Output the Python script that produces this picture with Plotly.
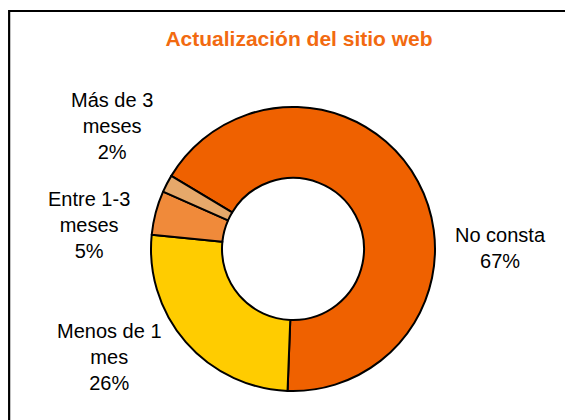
import plotly.graph_objects as go

# Data
categories = ["No consta", "Menos de 1<br>mes", "Entre 1-3<br>meses", "Más de 3<br>meses"]
values = [67, 26, 5, 2]
colors = ["#EF6100", "#FFCC00", "#F08A3A", "#E6A86A"]
title_text = "Actualización del sitio web"

W, H = 573, 420
OFF = 8  # page body margin offset in the browser

# Label positions (pixels in the reference picture: center x, center y)
label_pos = [(500, 248), (109, 357), (89, 225), (112, 126)]

FONT = "Liberation Sans, Arial, sans-serif"


def px(x):
    return (x - OFF) / W


def py(y):
    return 1 - (y - OFF) / H


fig = go.Figure(go.Pie(
    labels=categories,
    values=values,
    sort=False,
    direction="clockwise",
    rotation=-59,
    hole=0.5,
    textinfo="none",
    hoverinfo="label+percent",
    marker=dict(colors=colors, line=dict(color="black", width=2)),
    domain=dict(x=[px(151), px(435)], y=[py(391), py(107)]),
    showlegend=False,
))

total = sum(values)
annotations = []
for cat, val, (lx, ly) in zip(categories, values, label_pos):
    annotations.append(dict(
        text=f"{cat}<br>{round(100 * val / total)}%",
        x=px(lx), y=py(ly), xref="paper", yref="paper",
        xanchor="center", yanchor="middle", showarrow=False,
        align="center",
        font=dict(family=FONT, size=20, color="black"),
    ))

fig.update_layout(
    width=W, height=H,
    margin=dict(l=0, r=0, t=0, b=0),
    paper_bgcolor="white",
    plot_bgcolor="white",
    title=dict(
        text=f"<b>{title_text}</b>",
        x=px(299), y=py(39), xanchor="center", yanchor="middle",
        font=dict(family=FONT, size=21, color="#F26A10"),
    ),
    annotations=annotations,
    shapes=[dict(
        type="rect", xref="paper", yref="paper",
        x0=px(8) + 0.002, x1=1.02, y0=-0.02, y1=py(11),
        line=dict(color="black", width=2.2), fillcolor="rgba(0,0,0,0)",
    )],
)

fig.write_html("out.html")
